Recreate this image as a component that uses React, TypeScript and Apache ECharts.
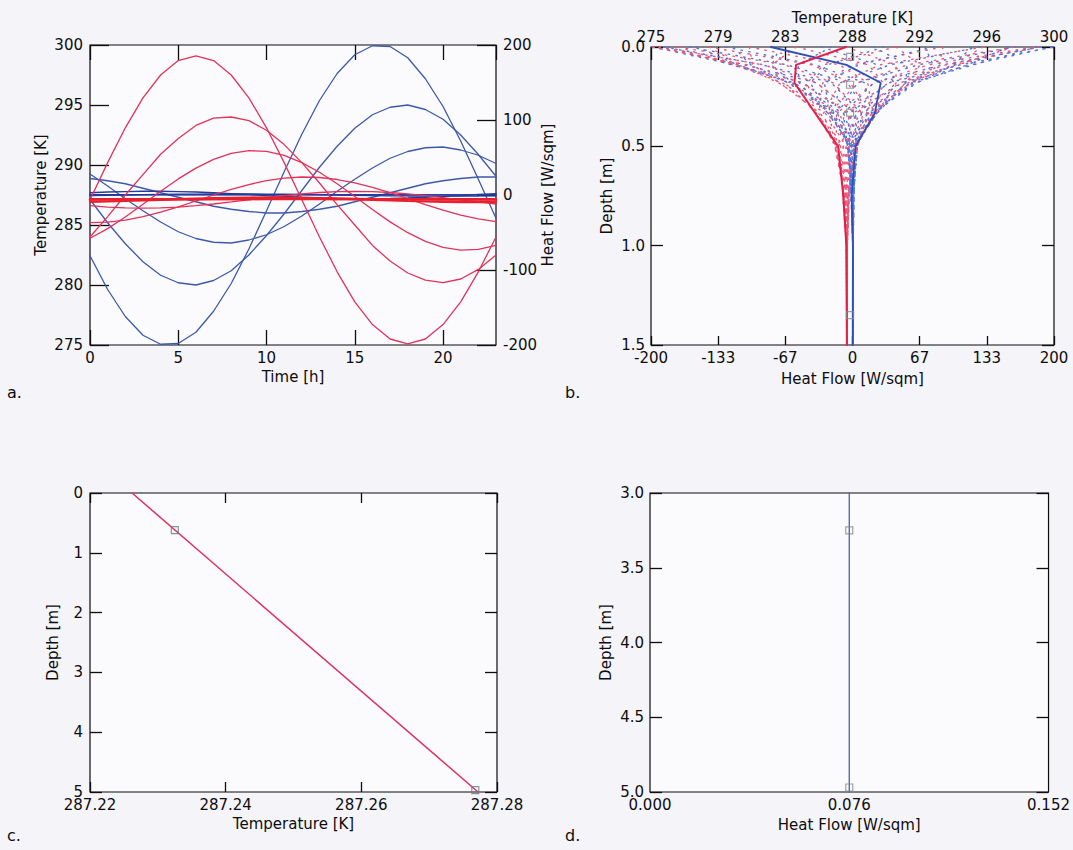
import React, { useEffect, useRef } from "react";
import * as echarts from "echarts";

// ---- hourly time axis (panel a) ----
const hours = [0, 1, 2, 3, 4, 5, 6, 7, 8, 9, 10, 11, 12, 13, 14, 15, 16, 17, 18, 19, 20, 21, 22, 23];

// soil temperature [K] at each model node, surface first
const tempNode0 = [287.1, 290.2, 293.1, 295.6, 297.5, 298.7, 299.1, 298.7, 297.5, 295.6, 293.1, 290.2, 287.1, 284.0, 281.1, 278.6, 276.7, 275.5, 275.1, 275.5, 276.7, 278.6, 281.1, 284.0];
const tempNode1 = [284.0, 285.7, 287.5, 289.2, 290.9, 292.2, 293.3, 293.9, 294.0, 293.7, 292.9, 291.7, 290.2, 288.5, 286.7, 285.0, 283.3, 282.0, 281.0, 280.4, 280.2, 280.5, 281.3, 282.5];
const tempNode2 = [283.9, 284.7, 285.66, 286.73, 287.81, 288.84, 289.74, 290.47, 290.96, 291.19, 291.13, 290.8, 290.2, 289.4, 288.44, 287.37, 286.29, 285.26, 284.36, 283.63, 283.14, 282.91, 282.97, 283.3];
const tempNode3 = [285.2, 285.24, 285.41, 285.69, 286.07, 286.51, 287.0, 287.5, 287.96, 288.37, 288.69, 288.91, 289.0, 288.96, 288.79, 288.51, 288.14, 287.69, 287.2, 286.7, 286.24, 285.83, 285.51, 285.29];
const tempNode4 = [286.61, 286.49, 286.42, 286.4, 286.42, 286.49, 286.61, 286.75, 286.92, 287.1, 287.28, 287.45, 287.59, 287.71, 287.78, 287.8, 287.78, 287.71, 287.59, 287.45, 287.28, 287.1, 286.92, 286.75];
const tempNode5 = [286.93, 286.96, 287.0, 287.05, 287.1, 287.15, 287.2, 287.24, 287.27, 287.29, 287.3, 287.29, 287.27, 287.24, 287.2, 287.15, 287.1, 287.05, 287.0, 286.96, 286.93, 286.91, 286.9, 286.91];
const tempNode6 = [287.12, 287.12, 287.12, 287.13, 287.13, 287.14, 287.15, 287.16, 287.17, 287.17, 287.18, 287.18, 287.18, 287.18, 287.17, 287.17, 287.16, 287.15, 287.14, 287.13, 287.13, 287.12, 287.12, 287.12];
const tempNode7 = [287.15, 287.15, 287.15, 287.15, 287.16, 287.16, 287.16, 287.16, 287.16, 287.17, 287.17, 287.17, 287.17, 287.17, 287.17, 287.16, 287.16, 287.16, 287.16, 287.16, 287.15, 287.15, 287.15, 287.15];

// heat flow [W/sqm] at the same nodes
const flowNode0 = [-81, -126, -162, -187, -199, -198, -183, -155, -118, -72, -21, 31, 81, 126, 162, 187, 199, 198, 183, 155, 118, 72, 21, -31];
const flowNode1 = [-6, -37, -65, -89, -107, -117, -120, -114, -101, -80, -54, -25, 6, 37, 65, 89, 107, 117, 120, 114, 101, 80, 54, 25];
const flowNode2 = [28, 12, -5, -21, -36, -49, -58, -63, -64, -60, -53, -42, -28, -12, 5, 21, 36, 49, 58, 63, 64, 60, 53, 42];
const flowNode3 = [22, 19, 15, 9, 3, -3, -9, -15, -19, -22, -24, -24, -22, -19, -15, -9, -3, 3, 9, 15, 19, 22, 24, 24];
const flowNode4 = [3.0, 4.0, 4.6, 5.0, 5.0, 4.6, 4.0, 3.0, 1.9, 0.7, -0.7, -1.9, -3.0, -4.0, -4.6, -5.0, -5.0, -4.6, -4.0, -3.0, -1.9, -0.7, 0.7, 1.9];
const flowNode5 = [-0.8, -0.4, 0.0, 0.4, 0.8, 1.1, 1.3, 1.4, 1.5, 1.4, 1.3, 1.1, 0.8, 0.4, 0.0, -0.4, -0.8, -1.1, -1.3, -1.4, -1.5, -1.4, -1.3, -1.1];
const flowNode6 = [0.4, 0.4, 0.4, 0.5, 0.5, 0.5, 0.5, 0.6, 0.6, 0.6, 0.6, 0.6, 0.5, 0.5, 0.5, 0.4, 0.4, 0.4, 0.3, 0.3, 0.3, 0.3, 0.4, 0.4];
const flowNode7 = [0.2, 0.2, 0.2, 0.2, 0.2, 0.2, 0.2, 0.2, 0.2, 0.2, 0.2, 0.2, 0.2, 0.2, 0.2, 0.2, 0.2, 0.2, 0.2, 0.2, 0.2, 0.2, 0.2, 0.2];

// node depths [m] for the profiles in panel b
const nodeDepths = [0, 0.09, 0.18, 0.335, 0.5, 0.75, 1.0, 1.5];
const sensorDepthsB = [0.05, 0.19, 0.33, 1.35];
const sensorTempB = 287.35;

// deep profile (panel c)
const deepProfileTemp = [287.2262, 287.2772];
const deepProfileDepth = [0, 5];
const deepSensorTemp = [287.2325, 287.2768];
const deepSensorDepth = [0.62, 4.97];

// deep heat flow (panel d)
const deepFlow = [0.076, 0.076];
const deepFlowDepth = [3.0, 5.0];
const deepFlowSensorDepth = [3.25, 4.97];

// tick labels
const flowTicksB = ["-200", "-133", "-67", "0", "67", "133", "200"];
const tempTicksB = ["275", "279", "283", "288", "292", "296", "300"];

const tempNodes = [tempNode0, tempNode1, tempNode2, tempNode3, tempNode4, tempNode5, tempNode6, tempNode7];
const flowNodes = [flowNode0, flowNode1, flowNode2, flowNode3, flowNode4, flowNode5, flowNode6, flowNode7];

const FONT = "DejaVu Sans";
const INK = "#0d0d0d";
const RED = "#e2325a";
const RED_BAND = "#e8202e";
const BLUE = "#3c59ab";
const BLUE_DARK = "#243a9a";

const labelStyle = { fontFamily: FONT, fontSize: 15, color: INK };

function axis(o: any) {
  return {
    type: "value",
    gridIndex: o.grid,
    position: o.position,
    min: o.min,
    max: o.max,
    interval: o.interval,
    inverse: !!o.inverse,
    axisLine: { show: false, onZero: false },
    axisTick: { show: (o.tick ?? 15) > 0, inside: true, length: o.tick ?? 15, lineStyle: { color: INK, width: 1.3 } },
    axisLabel: o.noLabel
      ? { show: false }
      : { show: true, margin: o.margin ?? 6, formatter: o.formatter, showMaxLabel: o.showMax ?? true, ...labelStyle },
    splitLine: { show: false },
    name: o.name,
    nameLocation: "middle",
    nameGap: o.nameGap,
    nameRotate: o.nameRotate,
    nameTextStyle: { ...labelStyle },
  };
}

function lineSeries(x: number, y: number, data: number[][], color: string, width: number, dash?: any) {
  return {
    type: "line",
    xAxisIndex: x,
    yAxisIndex: y,
    data,
    symbol: "none",
    silent: true,
    clip: true,
    lineStyle: { color, width, type: dash ?? "solid", cap: "round" },
  };
}

function squares(x: number, y: number, data: number[][], color: string) {
  return {
    type: "scatter",
    xAxisIndex: x,
    yAxisIndex: y,
    data,
    symbol: "rect",
    symbolSize: 7,
    silent: true,
    itemStyle: { color: "rgba(0,0,0,0)", borderColor: color, borderWidth: 1.2 },
    z: 5,
  };
}

export default function App() {
  const ref = useRef<HTMLDivElement>(null);

  useEffect(() => {
    if (!ref.current) return;
    const chart = echarts.init(ref.current, null, { renderer: "svg" });

    const series: any[] = [];

    // panel a: heat flow (right axis) then temperature (left axis)
    const flowColors = [BLUE, BLUE, BLUE, BLUE, BLUE_DARK, BLUE_DARK, BLUE_DARK, BLUE_DARK];
    flowNodes.forEach((arr, k) => {
      series.push(lineSeries(0, 1, hours.map((h, i) => [h, arr[i]]), flowColors[k], 1.3));
    });
    const tempColors = [RED, RED, RED, RED, RED, RED_BAND, RED_BAND, RED_BAND];
    const tempWidths = [1.3, 1.3, 1.3, 1.3, 1.3, 2.2, 2.4, 2.4];
    tempNodes.forEach((arr, k) => {
      series.push(lineSeries(0, 0, hours.map((h, i) => [h, arr[i]]), tempColors[k], tempWidths[k]));
    });

    // panel b: hourly profiles dotted, first hour solid
    for (let t = 1; t < hours.length; t++) {
      series.push(lineSeries(2, 2, nodeDepths.map((d, k) => [flowNodes[k][t], d]), "#5574d8", 1.4, [1.4, 6.5]));
      series.push(lineSeries(3, 2, nodeDepths.map((d, k) => [tempNodes[k][t], d]), "#ea5876", 1.4, [1.4, 6.5]));
    }
    series.push(lineSeries(2, 2, nodeDepths.map((d, k) => [flowNodes[k][0], d]), "#2f4fb8", 1.8));
    series.push(lineSeries(3, 2, nodeDepths.map((d, k) => [tempNodes[k][0], d]), "#e0204a", 2));
    series.push(squares(3, 2, sensorDepthsB.map((d) => [sensorTempB, d]), "#8a8a8a"));

    // panel c
    series.push(lineSeries(4, 4, deepProfileTemp.map((v, i) => [v, deepProfileDepth[i]]), "#e03060", 1.5));
    series.push(squares(4, 4, deepSensorTemp.map((v, i) => [v, deepSensorDepth[i]]), "#5f7f80"));

    // panel d
    series.push(lineSeries(6, 6, deepFlow.map((v, i) => [v, deepFlowDepth[i]]), "#4f5fa8", 1.3));
    series.push(squares(6, 6, deepFlowSensorDepth.map((d) => [deepFlow[0], d]), "#8a8a8a"));

    const gridStyle = { show: true, borderColor: INK, borderWidth: 1.2, backgroundColor: "#fbfbfe" };

    chart.setOption({
      animation: false,
      backgroundColor: "#f4f4f9",
      grid: [
        { left: 90, top: 45, width: 406, height: 300, ...gridStyle },
        { left: 651, top: 47, width: 403, height: 298, ...gridStyle },
        { left: 90, top: 493, width: 407, height: 299, ...gridStyle },
        { left: 650, top: 493, width: 403, height: 299, ...gridStyle },
      ],
      xAxis: [
        axis({ grid: 0, position: "bottom", min: 0, max: 23, interval: 5, name: "Time [h]", nameGap: 24, showMax: false, margin: 5, tick: 15 }),
        axis({ grid: 0, position: "top", min: 0, max: 23, interval: 5, noLabel: true, tick: 15 }),
        axis({
          grid: 1, position: "bottom", min: -200, max: 200, interval: 400 / 6, name: "Heat Flow [W/sqm]", nameGap: 26, margin: 5, tick: 9,
          formatter: (v: number) => flowTicksB[Math.round((v + 200) / (400 / 6))],
        }),
        axis({
          grid: 1, position: "top", min: 275, max: 300, interval: 25 / 6, name: "Temperature [K]", nameGap: 22, margin: 3, tick: 13,
          formatter: (v: number) => tempTicksB[Math.round((v - 275) / (25 / 6))],
        }),
        axis({ grid: 2, position: "bottom", min: 287.22, max: 287.28, interval: 0.02, name: "Temperature [K]", nameGap: 24, margin: 5, tick: 10, formatter: (v: number) => v.toFixed(2) }),
        axis({ grid: 2, position: "top", min: 287.22, max: 287.28, interval: 0.02, noLabel: true, tick: 10 }),
        axis({ grid: 3, position: "bottom", min: 0, max: 0.152, interval: 0.076, name: "Heat Flow [W/sqm]", nameGap: 25, margin: 5, tick: 0, formatter: (v: number) => v.toFixed(3) }),
        axis({ grid: 3, position: "top", min: 0, max: 0.152, interval: 0.076, noLabel: true, tick: 0 }),
      ],
      yAxis: [
        axis({ grid: 0, position: "left", min: 275, max: 300, interval: 5, name: "Temperature [K]", nameGap: 42, nameRotate: 90, margin: 7, tick: 19 }),
        axis({ grid: 0, position: "right", min: -200, max: 200, interval: 100, name: "Heat Flow [W/sqm]", nameGap: 44, nameRotate: 90, margin: 7, tick: 19 }),
        axis({ grid: 1, position: "left", min: 0, max: 1.5, interval: 0.5, inverse: true, name: "Depth [m]", nameGap: 37, nameRotate: 90, margin: 6, tick: 12, formatter: (v: number) => v.toFixed(1) }),
        axis({ grid: 1, position: "right", min: 0, max: 1.5, interval: 0.5, inverse: true, noLabel: true, tick: 12 }),
        axis({ grid: 2, position: "left", min: 0, max: 5, interval: 1, inverse: true, name: "Depth [m]", nameGap: 30, nameRotate: 90, margin: 7, tick: 12 }),
        axis({ grid: 2, position: "right", min: 0, max: 5, interval: 1, inverse: true, noLabel: true, tick: 12 }),
        axis({ grid: 3, position: "left", min: 3, max: 5, interval: 0.5, inverse: true, name: "Depth [m]", nameGap: 37, nameRotate: 90, margin: 6, tick: 12, formatter: (v: number) => v.toFixed(1) }),
        axis({ grid: 3, position: "right", min: 3, max: 5, interval: 0.5, inverse: true, noLabel: true, tick: 12 }),
      ],
      graphic: [
        { type: "text", left: 7, top: 384, style: { text: "a.", font: `16px "${FONT}"`, fill: INK } },
        { type: "text", left: 565, top: 384, style: { text: "b.", font: `16px "${FONT}"`, fill: INK } },
        { type: "text", left: 7, top: 827, style: { text: "c.", font: `16px "${FONT}"`, fill: INK } },
        { type: "text", left: 565, top: 827, style: { text: "d.", font: `16px "${FONT}"`, fill: INK } },
      ],
      series,
    });

    return () => chart.dispose();
  }, []);

  return (
    <div
      ref={ref}
      style={{ position: "absolute", left: 0, top: 0, width: 1073, height: 850, background: "#f4f4f9" }}
    />
  );
}
